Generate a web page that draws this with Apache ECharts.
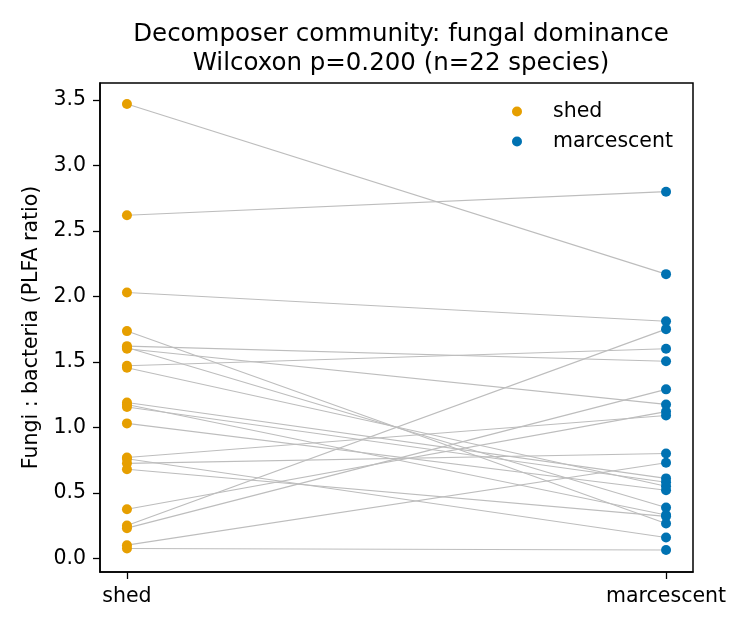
<!DOCTYPE html>
<html>
<head>
<meta charset="utf-8">
<script src="https://cdn.jsdelivr.net/npm/echarts@6/dist/echarts.min.js"></script>
<style>
  html, body { margin: 0; padding: 0; background: #fff; }
  #chart { width: 750px; height: 630px; }
</style>
</head>
<body>
<div id="chart"></div>
<script>
// groups on the x axis
var categories = ['shed', 'marcescent'];
// fungi:bacteria ratio per species, paired by index
var shed = [3.47, 2.62, 2.03, 1.735, 1.62, 1.61, 1.60, 1.47, 1.455, 1.19, 1.175, 1.155,
            1.03, 0.77, 0.76, 0.725, 0.68, 0.374, 0.25, 0.23, 0.10, 0.075];
var marcescent = [2.17, 2.80, 1.81, 0.265, 1.505, 0.387, 1.175, 1.60, 0.55, 0.61, 0.33, 0.58,
                  0.52, 1.09, 0.158, 0.80, 0.32, 1.12, 1.75, 1.29, 0.73, 0.063];
var yTicks = [0, 0.5, 1.0, 1.5, 2.0, 2.5, 3.0, 3.5];

function drawPairs() {
    var chartDom = document.getElementById('chart');
    var myChart = echarts.init(chartDom);
    var font = 'DejaVu Sans';

    var series = [];
    for (var i = 0; i < shed.length; i++) {
        series.push({
            type: 'line',
            data: [[0, shed[i]], [1, marcescent[i]]],
            symbol: 'none',
            silent: true,
            z: 1,
            lineStyle: { color: '#bdbdbd', width: 1.1 }
        });
    }
    series.push({
        name: 'shed',
        type: 'scatter',
        data: shed.map(function (v) { return [0, v]; }),
        symbolSize: 10,
        itemStyle: { color: '#E69F00', opacity: 1 },
        z: 3
    });
    series.push({
        name: 'marcescent',
        type: 'scatter',
        data: marcescent.map(function (v) { return [1, v]; }),
        symbolSize: 10,
        itemStyle: { color: '#0072B2', opacity: 1 },
        z: 3
    });

    var option = {
        animation: false,
        textStyle: { fontFamily: font },
        title: {
            text: 'Decomposer community: fungal dominance\nWilcoxon p=0.200 (n=22 species)',
            left: 396,
            top: 15,
            textAlign: 'center',
            textStyle: { fontFamily: font, fontSize: 24.5, fontWeight: 'normal', color: '#000', lineHeight: 29 }
        },
        legend: {
            data: ['shed', 'marcescent'],
            orient: 'vertical',
            left: 507,
            top: 96,
            itemWidth: 10,
            itemHeight: 10,
            itemGap: 9,
            icon: 'circle',
            textStyle: { fontFamily: font, fontSize: 20.5, color: '#000', padding: [0, 0, 0, 26] }
        },
        grid: {
            left: 100, right: 57, top: 83, bottom: 58,
            show: true, borderColor: '#000', borderWidth: 1.5, backgroundColor: '#fff'
        },
        xAxis: {
            type: 'value',
            min: -0.05,
            max: 1.05,
            splitLine: { show: false },
            axisLine: { show: true, onZero: false, lineStyle: { color: '#000', width: 1.5 } },
            axisTick: { show: true, length: 7, customValues: [0, 1], lineStyle: { color: '#000', width: 1.3 } },
            axisLabel: {
                customValues: [0, 1],
                margin: 14,
                fontFamily: font, fontSize: 20.5, color: '#000',
                formatter: function (v) { return categories[Math.round(v)]; }
            }
        },
        yAxis: {
            type: 'value',
            min: -0.105,
            max: 3.63,
            name: 'Fungi : bacteria (PLFA ratio)',
            nameLocation: 'middle',
            nameGap: 58,
            nameTextStyle: { fontFamily: font, fontSize: 20.5, color: '#000' },
            splitLine: { show: false },
            axisLine: { show: true, onZero: false, lineStyle: { color: '#000', width: 1.5 } },
            axisTick: { show: true, length: 7, customValues: yTicks, lineStyle: { color: '#000', width: 1.3 } },
            axisLabel: {
                customValues: yTicks,
                margin: 14,
                fontFamily: font, fontSize: 20.5, color: '#000',
                formatter: function (v) { return v.toFixed(1); }
            }
        },
        series: series
    };

    option && myChart.setOption(option);
}

drawPairs();
</script>
</body>
</html>
